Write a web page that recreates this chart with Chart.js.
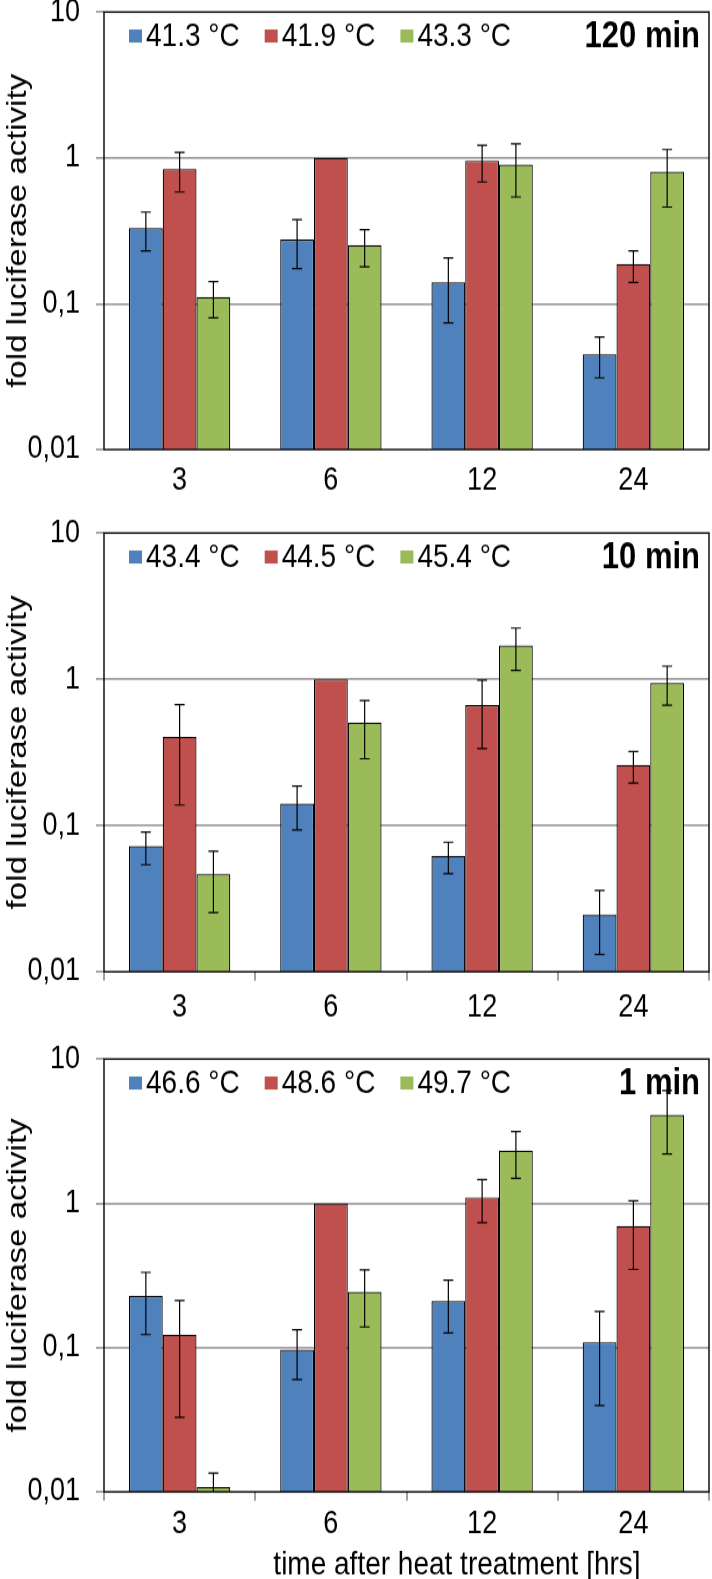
<!DOCTYPE html>
<html lang="en">
<head>
<meta charset="UTF-8">
<title>Fold luciferase activity after heat treatment</title>
<script src="https://cdn.jsdelivr.net/npm/chart.js"></script>
<style>
    body {
        margin: 0;
        background: #ffffff;
        width: 712px;
        height: 1579px;
        position: relative;
        overflow: hidden;
    }
    .panel {
        position: absolute;
        left: 0;
        width: 712px;
        transform-origin: 0 0;
    }
    .panel canvas { display: block; }
</style>
</head>
<body>
<div class="panel" id="w1"><canvas id="c1" width="712" height="400"></canvas></div>
<div class="panel" id="w2"><canvas id="c2" width="712" height="400"></canvas></div>
<div class="panel" id="w3"><canvas id="c3" width="712" height="400"></canvas></div>

<script>
// shared axes
const categories = ['3', '6', '12', '24'];
const yTickValues = [0.01, 0.1, 1, 10];
const yTickLabels = ['0,01', '0,1', '1', '10'];

// 120 min panel
const temps120 = ['41.3 °C', '41.9 °C', '43.3 °C'];
const mean120Low = [0.33, 0.275, 0.14, 0.045];
const errLo120Low = [0.23, 0.174, 0.074, 0.031];
const errHi120Low = [0.425, 0.377, 0.206, 0.059];
const mean120Mid = [0.838, 1, 0.957, 0.187];
const errLo120Mid = [0.583, null, 0.683, 0.140];
const errHi120Mid = [1.09, null, 1.22, 0.230];
const mean120High = [0.111, 0.252, 0.898, 0.804];
const errLo120High = [0.080, 0.179, 0.539, 0.46];
const errHi120High = [0.142, 0.322, 1.25, 1.14];

// 10 min panel
const temps10 = ['43.4 °C', '44.5 °C', '45.4 °C'];
const mean10Low = [0.0724, 0.141, 0.062, 0.0246];
const errLo10Low = [0.054, 0.093, 0.0469, 0.0131];
const errHi10Low = [0.0903, 0.186, 0.0768, 0.0359];
const mean10Mid = [0.404, 1, 0.665, 0.259];
const errLo10Mid = [0.138, null, 0.336, 0.195];
const errHi10Mid = [0.672, null, 0.985, 0.321];
const mean10High = [0.0465, 0.506, 1.70, 0.944];
const errLo10High = [0.0254, 0.286, 1.15, 0.665];
const errHi10High = [0.0667, 0.715, 2.24, 1.23];

// 1 min panel
const temps1 = ['46.6 °C', '48.6 °C', '49.7 °C'];
const mean1Low = [0.228, 0.0968, 0.210, 0.109];
const errLo1Low = [0.123, 0.060, 0.126, 0.0396];
const errHi1Low = [0.332, 0.133, 0.293, 0.178];
const mean1Mid = [0.123, 1, 1.10, 0.696];
const errLo1Mid = [0.0328, null, 0.734, 0.348];
const errHi1Mid = [0.212, null, 1.46, 1.04];
const mean1High = [0.0108, 0.243, 2.32, 4.10];
const errLo1High = [0.008, 0.139, 1.49, 2.20];
const errHi1High = [0.0135, 0.346, 3.14, 6.05];

const colors = ['#4F81BD', '#C0504D', '#9BBB59'];
const gridGray = '#a0a0a0';
const fontFamily = '"Liberation Sans", Arial, Helvetica, sans-serif';
const K = 1.18; // the original figure is a bit taller than wide, so each panel is stretched vertically

Chart.defaults.font.family = fontFamily;
Chart.defaults.font.size = 27;
Chart.defaults.color = '#000';

// error bars on top of the bars
const errorBars = {
    id: 'errorBars',
    afterDatasetsDraw(chart) {
        const { ctx, chartArea } = chart;
        const yScale = chart.scales.y;
        ctx.save();
        ctx.beginPath();
        ctx.rect(chartArea.left, chartArea.top, chartArea.width, chartArea.height);
        ctx.clip();
        ctx.strokeStyle = '#000';
        ctx.lineWidth = 1.2;
        chart.data.datasets.forEach((ds, i) => {
            chart.getDatasetMeta(i).data.forEach((bar, j) => {
                const lo = ds.errLow[j], hi = ds.errHigh[j];
                if (lo == null || hi == null) return;
                const yLo = yScale.getPixelForValue(lo);
                const yHi = yScale.getPixelForValue(hi);
                ctx.beginPath();
                ctx.moveTo(bar.x, yLo); ctx.lineTo(bar.x, yHi);
                ctx.moveTo(bar.x - 5, yLo); ctx.lineTo(bar.x + 5, yLo);
                ctx.moveTo(bar.x - 5, yHi); ctx.lineTo(bar.x + 5, yHi);
                ctx.stroke();
            });
        });
        ctx.restore();
    }
};

// plot frame, legend row, panel label, category labels and the shared x title
const decorations = {
    id: 'decorations',
    afterDraw(chart, args, opts) {
        const { ctx, chartArea } = chart;
        const xScale = chart.scales.x;
        ctx.save();
        ctx.strokeStyle = '#000';
        ctx.lineWidth = 1.4;
        ctx.strokeRect(chartArea.left, chartArea.top, chartArea.width, chartArea.height);

        // legend
        const cy = chartArea.top + 24 / K;
        ctx.font = '28px ' + fontFamily;
        ctx.textBaseline = 'middle';
        ctx.textAlign = 'left';
        let x = chartArea.left + 25;
        chart.data.datasets.forEach(ds => {
            ctx.fillStyle = ds.backgroundColor;
            ctx.fillRect(x, cy - 6.5 / K, 13, 13 / K);
            ctx.fillStyle = '#000';
            ctx.fillText(ds.label, x + 17, cy + 1);
            x += 17 + ctx.measureText(ds.label).width + 25;
        });

        // panel label
        ctx.font = 'bold 31px ' + fontFamily;
        ctx.textAlign = 'right';
        ctx.fillText(opts.label, chartArea.right - 9, cy + 1);

        // category labels under the axis
        ctx.font = '27px ' + fontFamily;
        ctx.textAlign = 'center';
        const ly = chartArea.bottom + opts.labelOffset / K;
        chart.data.labels.forEach((lab, i) => {
            ctx.fillText(lab, xScale.getPixelForValue(i), ly);
        });

        if (opts.xTitle) {
            ctx.font = '28px ' + fontFamily;
            ctx.fillText(opts.xTitle, 457, chartArea.bottom + 74 / K);
        }
        ctx.restore();
    }
};

function makeDatasets(labels, means, lows, highs) {
    return labels.map((label, i) => ({
        label: label,
        data: means[i],
        errLow: lows[i],
        errHigh: highs[i],
        backgroundColor: colors[i],
        borderColor: '#000',
        borderWidth: 1.2,
        categoryPercentage: 0.67,
        barPercentage: 1.0
    }));
}

function makeConfig(cfg) {
    return {
        type: 'bar',
        data: {
            labels: categories,
            datasets: makeDatasets(cfg.temps, cfg.means, cfg.lows, cfg.highs)
        },
        options: {
            responsive: false,
            maintainAspectRatio: false,
            animation: false,
            layout: { padding: { top: 0, right: 3, left: 0, bottom: 0 } },
            plugins: {
                legend: { display: false },
                tooltip: { enabled: false },
                decorations: { label: cfg.label, xTitle: cfg.xTitle, labelOffset: cfg.labelOffset }
            },
            scales: {
                x: {
                    type: 'category',
                    border: { display: false },
                    grid: {
                        offset: true,
                        drawOnChartArea: false,
                        tickLength: 7.5,
                        lineWidth: 2,
                        color: cfg.xTicks ? gridGray : 'rgba(0,0,0,0)'
                    },
                    ticks: { display: false },
                    afterFit(scale) { scale.height = cfg.xHeight; }
                },
                y: {
                    type: 'logarithmic',
                    min: 0.01,
                    max: 10,
                    border: { display: false },
                    grid: {
                        lineWidth: 1.8,
                        tickLength: 8,
                        tickColor: gridGray,
                        color: ctx => (ctx.tick && (ctx.tick.value === 1 || ctx.tick.value === 0.1)) ? gridGray : 'rgba(0,0,0,0)'
                    },
                    afterBuildTicks(scale) {
                        scale.ticks = yTickValues.map(v => ({ value: v }));
                    },
                    ticks: {
                        padding: 16,
                        font: { size: 27 },
                        callback: v => yTickLabels[yTickValues.indexOf(v)]
                    },
                    title: {
                        display: true,
                        text: 'fold luciferase activity',
                        font: { size: 28 },
                        padding: { top: 1, bottom: 0 }
                    },
                    afterFit(scale) { scale.width = 104; }
                }
            }
        },
        plugins: [errorBars, decorations]
    };
}

// build a panel so that its plot area lands on [top, bottom] of the page
function makePanel(n, cfg) {
    const canvas = document.getElementById('c' + n);
    const wrap = document.getElementById('w' + n);
    let chart = new Chart(canvas, makeConfig(cfg));
    const t0 = chart.chartArea.top;
    chart.destroy();
    canvas.width = 712;
    canvas.height = Math.round(t0 + (cfg.bottom - cfg.top) / K + cfg.xHeight);
    chart = new Chart(canvas, makeConfig(cfg));
    wrap.style.top = (cfg.top - chart.chartArea.top * K) + 'px';
    wrap.style.transform = 'scaleY(' + K + ')';
    return chart;
}

makePanel(1, {
    temps: temps120,
    means: [mean120Low, mean120Mid, mean120High],
    lows: [errLo120Low, errLo120Mid, errLo120High],
    highs: [errHi120Low, errHi120Mid, errHi120High],
    label: '120 min', top: 12, bottom: 450, xHeight: 58, labelOffset: 31, xTicks: false
});

makePanel(2, {
    temps: temps10,
    means: [mean10Low, mean10Mid, mean10High],
    lows: [errLo10Low, errLo10Mid, errLo10High],
    highs: [errHi10Low, errHi10Mid, errHi10High],
    label: '10 min', top: 533, bottom: 972, xHeight: 58, labelOffset: 36, xTicks: true
});

makePanel(3, {
    temps: temps1,
    means: [mean1Low, mean1Mid, mean1High],
    lows: [errLo1Low, errLo1Mid, errLo1High],
    highs: [errHi1Low, errHi1Mid, errHi1High],
    label: '1 min', top: 1059, bottom: 1492, xHeight: 76, labelOffset: 32, xTicks: true,
    xTitle: 'time after heat treatment [hrs]'
});
</script>
</body>
</html>
